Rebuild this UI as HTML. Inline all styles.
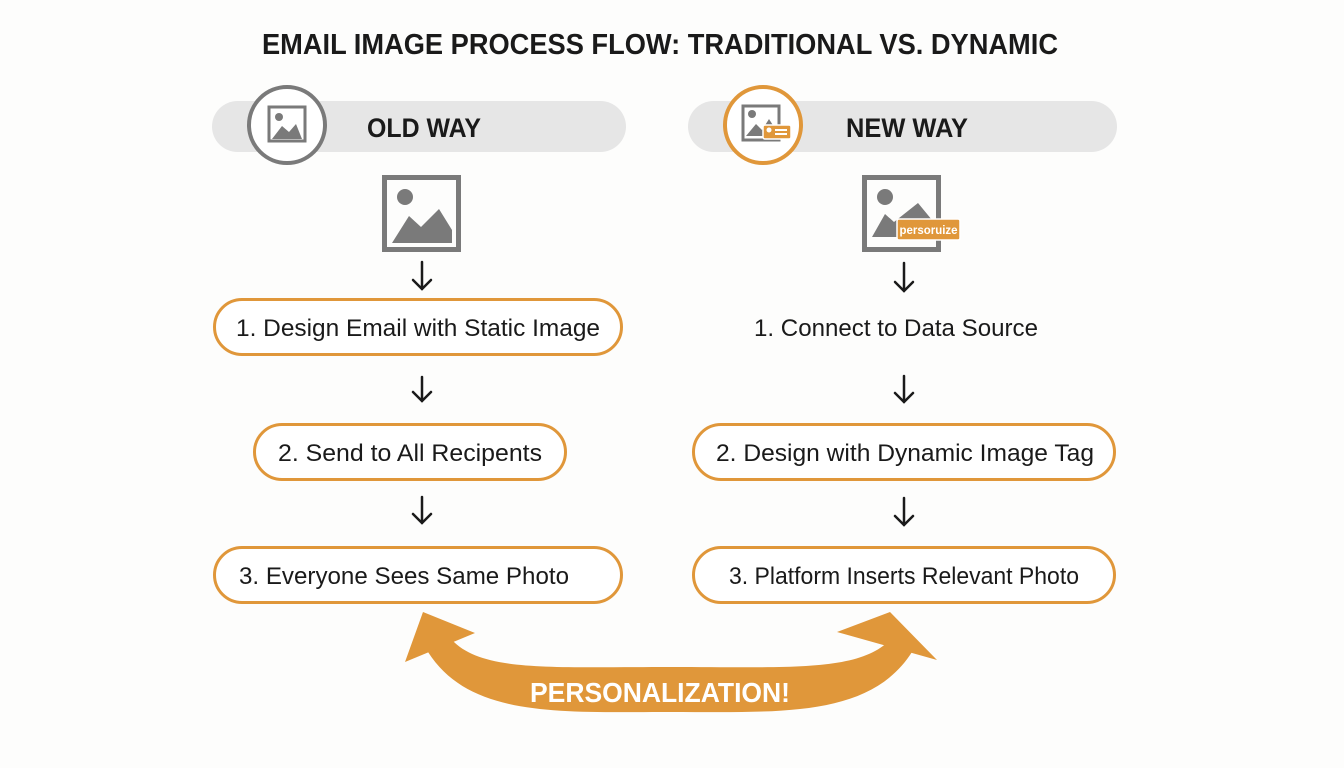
<!DOCTYPE html>
<html><head><meta charset="utf-8"><style>
html,body{margin:0;padding:0;background:#fdfdfc;}
svg{display:block}
text{font-family:"Liberation Sans",sans-serif;}
</style></head><body>
<svg width="1344" height="768" viewBox="0 0 1344 768" xmlns="http://www.w3.org/2000/svg">
<rect width="1344" height="768" fill="#fdfdfc"/>
<text x="660" y="54" text-anchor="middle" font-size="29" font-weight="bold" fill="#1a1a1a" textLength="796" lengthAdjust="spacingAndGlyphs">EMAIL IMAGE PROCESS FLOW: TRADITIONAL VS. DYNAMIC</text>

<!-- pills -->
<rect x="212" y="101" width="414" height="51" rx="25.5" fill="#e6e6e6"/>
<rect x="688" y="101" width="429" height="51" rx="25.5" fill="#e6e6e6"/>
<circle cx="287" cy="125" r="38" fill="#fff" stroke="#7a7a7a" stroke-width="4"/>
<circle cx="763" cy="125" r="38" fill="#fff" stroke="#e0973a" stroke-width="4"/>
<!-- small icon old -->
<rect x="269" y="107" width="36" height="34" fill="none" stroke="#7a7a7a" stroke-width="3"/>
<circle cx="279" cy="117" r="4" fill="#7a7a7a"/>
<polygon points="272,139 282,126 289,132 296,124 302,139" fill="#7a7a7a"/>
<!-- small icon new -->
<rect x="743" y="106" width="36" height="34" fill="none" stroke="#7a7a7a" stroke-width="3"/>
<circle cx="752" cy="114" r="4" fill="#7a7a7a"/>
<polygon points="746,136 756,124 762,130 769,119 776,130 776,136" fill="#7a7a7a"/>
<rect x="763" y="125" width="28" height="14" rx="2" fill="#e0973a" stroke="#fff" stroke-width="1.5"/>
<circle cx="769" cy="130" r="2.5" fill="#fff"/>
<rect x="775" y="129" width="12" height="2" fill="#fff"/><rect x="775" y="133" width="12" height="2" fill="#fff"/>
<text x="367" y="137" font-size="27" font-weight="bold" fill="#1a1a1a" textLength="114" lengthAdjust="spacingAndGlyphs">OLD WAY</text>
<text x="846" y="137" font-size="27" font-weight="bold" fill="#1a1a1a" textLength="122" lengthAdjust="spacingAndGlyphs">NEW WAY</text>

<!-- big images -->
<rect x="384.5" y="177.5" width="74" height="72" fill="none" stroke="#7a7a7a" stroke-width="5"/>
<circle cx="405" cy="197" r="8" fill="#7a7a7a"/>
<polygon points="392,243 409,216 421,227 439,209 452,230 452,243" fill="#7a7a7a"/>
<rect x="864.5" y="177.5" width="74" height="72" fill="none" stroke="#7a7a7a" stroke-width="5"/>
<circle cx="885" cy="197" r="8" fill="#7a7a7a"/>
<polygon points="872,237 885,214 894,222 918,203 932,220 932,237" fill="#7a7a7a"/>
<rect x="897" y="219" width="63" height="21" rx="2" fill="#e0973a" stroke="#fff" stroke-width="1.5"/>
<text x="928.5" y="234" text-anchor="middle" font-size="12" font-weight="bold" fill="#fff" textLength="58" lengthAdjust="spacingAndGlyphs">persoruize</text>

<!-- arrows -->
<g stroke="#1a1a1a" stroke-width="2.5" fill="none" stroke-linecap="round">
<path d="M422 262 V289 M413 280 L422 289 L431 280"/>
<path d="M422 377 V401 M413 392 L422 401 L431 392"/>
<path d="M422 497 V523 M413 514 L422 523 L431 514"/>
<path d="M904 263 V291 M895 282 L904 291 L913 282"/>
<path d="M904 376 V402 M895 393 L904 402 L913 393"/>
<path d="M904 498 V525 M895 516 L904 525 L913 516"/>
</g>

<!-- boxes -->
<g fill="#fff" stroke="#e0973a" stroke-width="3">
<rect x="214.5" y="299.5" width="407" height="55" rx="27.5"/>
<rect x="254.5" y="424.5" width="311" height="55" rx="27.5"/>
<rect x="214.5" y="547.5" width="407" height="55" rx="27.5"/>
<rect x="693.5" y="424.5" width="421" height="55" rx="27.5"/>
<rect x="693.5" y="547.5" width="421" height="55" rx="27.5"/>
</g>
<g font-size="24" fill="#1a1a1a">
<text x="418" y="336" text-anchor="middle" textLength="364" lengthAdjust="spacingAndGlyphs">1. Design Email with Static Image</text>
<text x="410" y="461" text-anchor="middle" textLength="264" lengthAdjust="spacingAndGlyphs">2. Send to All Recipents</text>
<text x="404" y="584" text-anchor="middle" textLength="330" lengthAdjust="spacingAndGlyphs">3. Everyone Sees Same Photo</text>
<text x="896" y="336" text-anchor="middle" textLength="284" lengthAdjust="spacingAndGlyphs">1. Connect to Data Source</text>
<text x="905" y="461" text-anchor="middle" textLength="378" lengthAdjust="spacingAndGlyphs">2. Design with Dynamic Image Tag</text>
<text x="904" y="584" text-anchor="middle" textLength="350" lengthAdjust="spacingAndGlyphs">3. Platform Inserts Relevant Photo</text>
</g>

<!-- curved arrow -->
<g fill="#e0973a">
<path d="M428 652 C470 718 560 712 670 712 C780 712 870 718 912 652 L890 640 C858 672 790 667 670 667 C550 667 482 672 452 640 Z"/>
<polygon points="423,612 405,662 475,633"/>
<polygon points="890,612 937,660 837,632"/>
</g>
<text x="660" y="702" text-anchor="middle" font-size="28" font-weight="bold" fill="#fff" textLength="260" lengthAdjust="spacingAndGlyphs">PERSONALIZATION!</text>
</svg>
</body></html>
